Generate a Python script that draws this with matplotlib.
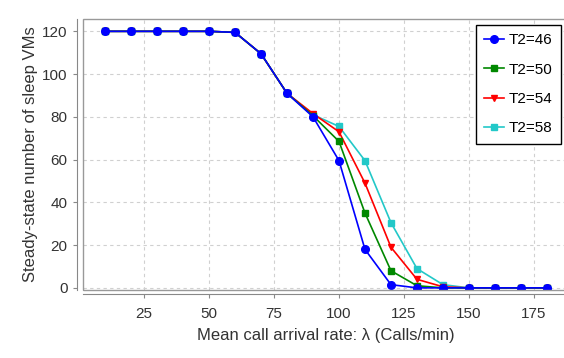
import matplotlib
matplotlib.use('Agg')
from matplotlib import pyplot as plt
from matplotlib.patches import Rectangle

plt.rcParams['font.family'] = ['Liberation Sans', 'DejaVu Sans']

# arrival rate (calls/min)
rate = [10, 20, 30, 40, 50, 60, 70, 80, 90, 100, 110, 120, 130, 140, 150, 160, 170, 180]

# steady-state sleep VMs for each T2
t2_46 = [120, 120, 120, 120, 120, 119.5, 109.5, 91, 80, 59.5, 18, 1.5, 0, 0, 0, 0, 0, 0]
t2_50 = [120, 120, 120, 120, 120, 119.5, 109.5, 91, 80.5, 68.5, 35, 8, 1, 0, 0, 0, 0, 0]
t2_54 = [120, 120, 120, 120, 120, 119.5, 109.5, 91, 81.5, 73, 49, 19, 4, 0.5, 0, 0, 0, 0]
t2_58 = [120, 120, 120, 120, 120, 119.5, 109.5, 91, 81, 75.5, 59.5, 30.5, 9, 1.5, 0, 0, 0, 0]

labels = ['T2=46', 'T2=50', 'T2=54', 'T2=58']
series = [t2_46, t2_50, t2_54, t2_58]
colors = ['#0000ff', '#008800', '#ff0000', '#22c8c8']
markers = ['o', 's', 'v', 's']
msizes = [5.5, 5, 5, 4]

fig = plt.figure(figsize=(5.64, 3.58), dpi=100)
# plot area runs a little past the right edge, as in the original
ax = fig.add_axes([83 / 564, 68 / 358, 486 / 564, 271.5 / 358])

# first series on top, like the original
lines = []
for i in range(len(series) - 1, -1, -1):
    ln, = ax.plot(rate, series[i], color=colors[i], marker=markers[i],
                  markersize=msizes[i], linewidth=1.2, label=labels[i], zorder=3 + (4 - i))
    lines.append(ln)
lines = lines[::-1]

ax.set_xlim(1.5, 188.5)
ax.set_ylim(-1, 126)
ax.set_xticks([25, 50, 75, 100, 125, 150, 175])
ax.set_yticks([0, 20, 40, 60, 80, 100, 120])
ax.grid(True, color='#d0d0d0', linestyle=(0, (3, 3)), linewidth=0.8)
ax.set_axisbelow(True)

for s in ['top', 'right']:
    ax.spines[s].set_visible(False)
ax.spines['left'].set_position(('outward', 4.5))
ax.spines['bottom'].set_position(('outward', 3))
ax.spines['left'].set_color('#888888')
ax.spines['bottom'].set_color('#888888')
ax.add_patch(Rectangle((0, 0), 1, 1, transform=ax.transAxes, fill=False,
                       edgecolor='#999999', linewidth=1.0, zorder=10, clip_on=False))

ax.tick_params(axis='both', colors='#888888', labelcolor='#333333', labelsize=11,
               length=3, width=0.8)
ax.tick_params(axis='x', pad=6)

ax.set_xlabel('Mean call arrival rate: λ (Calls/min)', fontsize=12, color='#333333', labelpad=5)
ax.set_ylabel('Steady-state number of sleep VMs', fontsize=12, color='#333333', labelpad=3)

leg = ax.legend(lines, labels, loc='upper right', bbox_to_anchor=(0.9835, 0.976),
                borderaxespad=0, fancybox=False, edgecolor='black', framealpha=1,
                fontsize=11, handlelength=1.3, labelspacing=1.0, borderpad=0.55,
                handletextpad=0.3)
leg.get_frame().set_linewidth(1.0)
leg.set_zorder(20)

fig.savefig('out.png', dpi=100)
